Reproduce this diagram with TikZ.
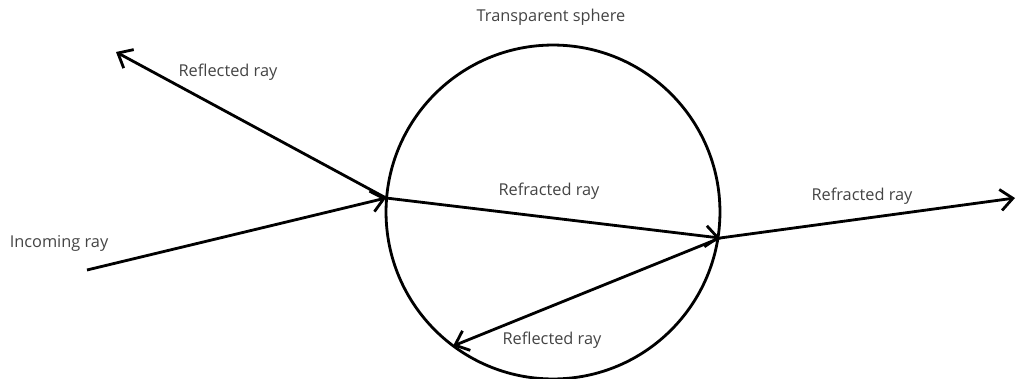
\documentclass[tikz,border=0pt]{standalone}
\usepackage{fontspec}
\setmainfont{Open Sans}
\usetikzlibrary{arrows.meta}
\definecolor{labelgray}{HTML}{444444}
\tikzset{
  ray/.style={line width=1.6pt, -{Straight Barb[length=7pt, width=12pt, line width=1.6pt]}},
  raylabel/.style={text=labelgray, font=\fontsize{9.3}{11}\selectfont, inner sep=0pt}
}
\begin{document}
\begin{tikzpicture}[x=0.02cm, y=-0.02cm]
  \useasboundingbox (0,0) rectangle (1019,379);
  \draw[line width=1.6pt] (553,212) circle[radius=3.34cm];
  \coordinate (start) at (87,270);
  \coordinate (hitA) at (386,198);
  \coordinate (hitB) at (720,238);
  \coordinate (reflA) at (116,52);
  \coordinate (reflB) at (453,346);
  \coordinate (exit) at (1015,198);
  \draw[ray] (start) -- (hitA);
  \draw[ray] (hitA) -- (reflA);
  \draw[ray] (hitA) -- (hitB);
  \draw[ray] (hitB) -- (reflB);
  \draw[ray] (hitB) -- (exit);
  \node[raylabel] (sphere) at (551,17) {Transparent sphere};
  \node[raylabel] (reflout) at (228,72) {Reflected ray};
  \node[raylabel] (refrin) at (549,191) {Refracted ray};
  \node[raylabel] (refrout) at (862,196) {Refracted ray};
  \node[raylabel] (incoming) at (59,243) {Incoming ray};
  \node[raylabel] (reflin) at (552,340) {Reflected ray};
\end{tikzpicture}
\end{document}
